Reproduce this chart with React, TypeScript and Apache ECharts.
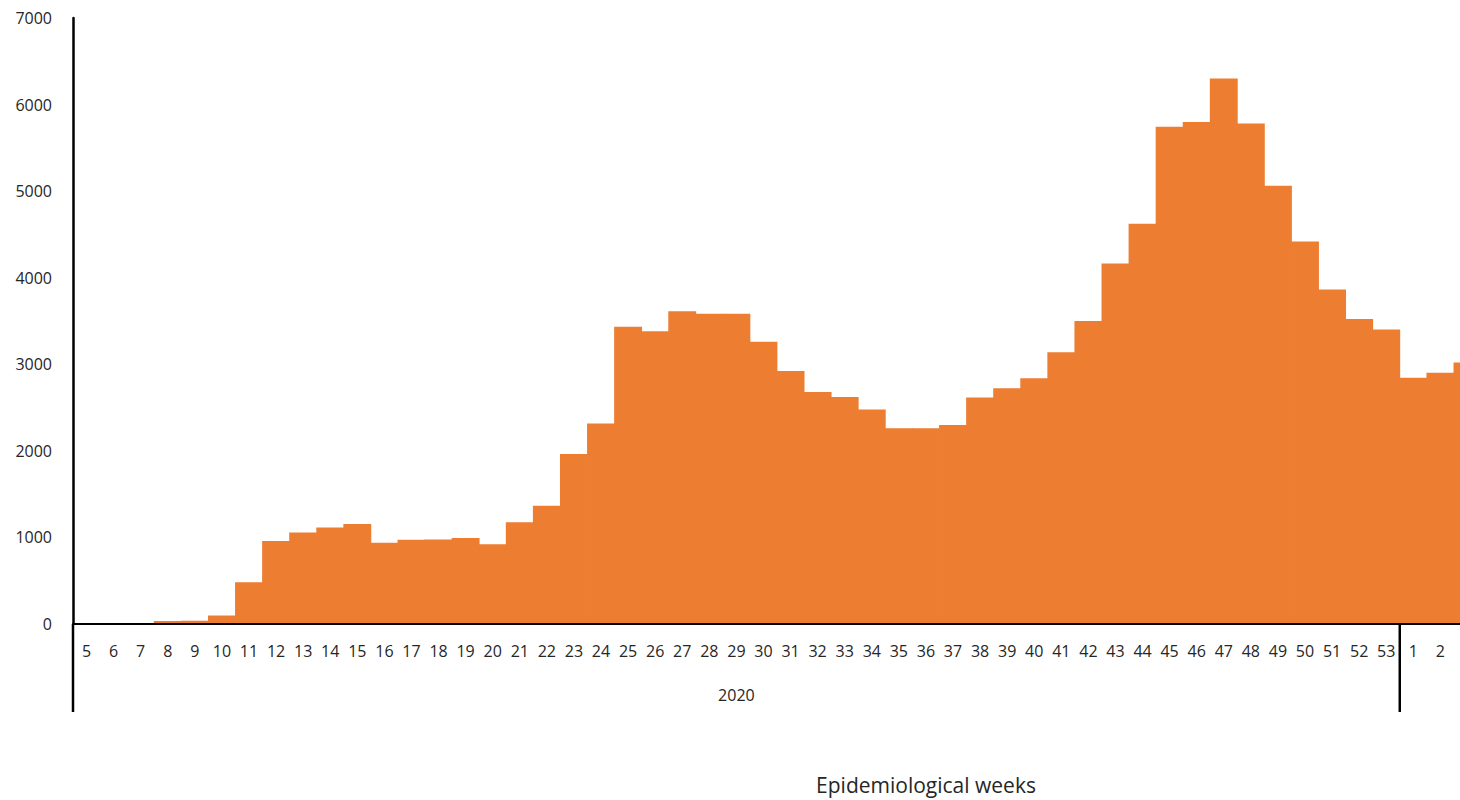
import React, { useEffect, useRef } from "react";
import * as echarts from "echarts";

const weeks: string[] = [
  "5", "6", "7", "8", "9", "10", "11", "12", "13", "14", "15", "16", "17", "18", "19", "20",
  "21", "22", "23", "24", "25", "26", "27", "28", "29", "30", "31", "32", "33", "34", "35", "36",
  "37", "38", "39", "40", "41", "42", "43", "44", "45", "46", "47", "48", "49", "50", "51", "52",
  "53", "1", "2", "3",
];

const cases: number[] = [
  0, 0, 0, 35, 38, 98, 481, 958, 1058, 1116, 1155, 939, 973, 975, 993, 920,
  1174, 1366, 1963, 2317, 3433, 3383, 3614, 3583, 3583, 3260, 2921, 2679, 2621, 2479, 2260, 2262,
  2298, 2615, 2722, 2838, 3138, 3500, 4165, 4623, 5743, 5800, 6301, 5781, 5061, 4419, 3865, 3522,
  3403, 2844, 2902, 3022,
];

const yearLabels: string[] = ["2020", "2021"];
const yearStartWeek: string[] = ["5", "1"];
const axisTitle = "Epidemiological weeks";

const FONT = "'Open Sans', 'Noto Sans', sans-serif";
const TEXT = "#262626";
const BAR = "#ED7D31";

export default function App() {
  const ref = useRef<HTMLDivElement>(null);

  useEffect(() => {
    if (!ref.current) return;
    const chart = echarts.init(ref.current, null, { renderer: "svg" });
    chart.setOption({
      animation: false,
      grid: { left: 73, right: 0, top: 18, bottom: 176, containLabel: false },
      xAxis: {
        type: "category",
        data: weeks,
        axisLine: { show: true, lineStyle: { color: "#000", width: 2 } },
        axisTick: { show: false },
        axisLabel: {
          // the last week's label lies beyond the visible page in the reference
          interval: (idx: number) => idx < weeks.length - 1,
          margin: 19,
          fontSize: 16,
          fontFamily: FONT,
          color: TEXT,
        },
        splitLine: { show: false },
        z: 5,
      },
      yAxis: {
        type: "value",
        min: 0,
        max: 7000,
        interval: 1000,
        axisLine: { show: true, lineStyle: { color: "#000", width: 2.5 } },
        axisTick: { show: false },
        splitLine: { show: false },
        axisLabel: {
          margin: 21,
          fontSize: 16,
          fontFamily: FONT,
          color: TEXT,
          formatter: (v: number) => String(v),
        },
      },
      series: [
        {
          type: "bar",
          data: cases,
          barWidth: "103%",
          itemStyle: { color: BAR },
        },
      ],
    });

    const px = (i: number) => chart.convertToPixel({ xAxisIndex: 0 }, i) as number;
    const bw = px(1) - px(0);
    const yZero = chart.convertToPixel({ yAxisIndex: 0 }, 0) as number;
    const yBottom = 712;
    const edges = yearStartWeek.map((w) => px(weeks.indexOf(w)) - bw / 2);
    const graphics: any[] = [];
    edges.forEach((x) => {
      graphics.push({
        type: "line",
        shape: { x1: x, y1: yZero, x2: x, y2: yBottom },
        style: { stroke: "#000", lineWidth: 2.5 },
        silent: true,
      });
    });
    graphics.push({
      type: "text",
      x: (edges[0] + edges[1]) / 2,
      y: 695,
      style: {
        text: yearLabels[0],
        font: `16px ${FONT}`,
        fill: TEXT,
        align: "center",
        verticalAlign: "middle",
      },
    });
    graphics.push({
      type: "text",
      x: 926,
      y: 785,
      style: {
        text: axisTitle,
        font: `21px ${FONT}`,
        fill: TEXT,
        align: "center",
        verticalAlign: "middle",
      },
    });
    chart.setOption({ graphic: graphics });

    return () => chart.dispose();
  }, []);

  return (
    <div
      style={{
        position: "fixed",
        left: 0,
        top: 0,
        width: 1460,
        height: 800,
        overflow: "hidden",
        background: "#fff",
      }}
    >
      <div ref={ref} style={{ width: 1481, height: 800 }} />
    </div>
  );
}
